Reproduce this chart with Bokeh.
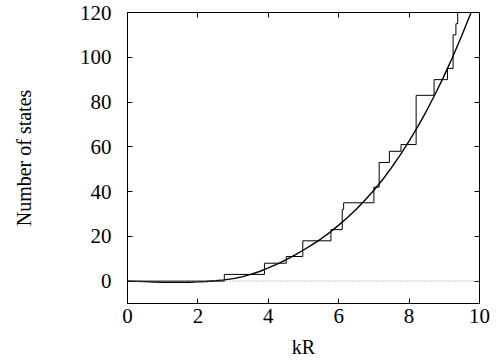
from bokeh.plotting import figure
from bokeh.models import Range1d, LinearAxis, FixedTicker, Span
from bokeh.embed import file_html
from bokeh.resources import INLINE

# Counted states: positions in kR where the count jumps, and the count after each jump
jump_kr = [0.0, 2.75, 3.89, 4.51, 4.98, 5.78, 6.10, 6.14, 7.00, 7.15, 7.44, 7.77,
           8.20, 8.71, 9.09, 9.25, 9.33, 9.38, 10.0]
count = [0, 3, 8, 11, 18, 23, 32, 35, 42, 53, 58, 61,
         83, 90, 95, 110, 115, 130, 130]

# Smooth (asymptotic) estimate of the number of states
smooth_kr = [0.0, 0.25, 0.5, 0.75, 1.0, 1.25, 1.5, 1.75, 2.0, 2.25, 2.5, 2.75,
             3.0, 3.25, 3.5, 3.75, 4.0, 4.25, 4.5, 4.75, 5.0, 5.25, 5.5, 5.75,
             6.0, 6.25, 6.5, 6.75, 7.0, 7.25, 7.5, 7.75, 8.0, 8.25, 8.5, 8.75,
             9.0, 9.25, 9.5, 9.75]
smooth_n = [0.0, -0.1, -0.25, -0.4, -0.5, -0.55, -0.55, -0.5, -0.35, -0.15, 0.15, 0.55,
            1.1, 1.9, 3.0, 4.3, 5.9, 7.6, 9.5, 11.6, 13.9, 16.3, 18.9, 21.8,
            25.0, 28.4, 32.1, 36.2, 40.6, 45.4, 50.7, 56.4, 62.5, 69.1, 76.2, 83.8,
            91.9, 100.6, 109.8, 119.6]

x_ticks = [0, 2, 4, 6, 8, 10]
y_ticks = [0, 20, 40, 60, 80, 100, 120]

FONT = "Liberation Serif"

p = figure(width=500, height=362, output_backend="svg", toolbar_location=None,
           x_range=Range1d(0, 10), y_range=Range1d(-10, 120),
           min_border_left=127, min_border_right=21, min_border_top=12,
           min_border_bottom=59)
p.background_fill_color = "white"
p.border_fill_color = "white"
p.grid.visible = False
p.outline_line_color = "black"
p.outline_line_width = 1

# zero reference line
p.add_layout(Span(location=0, dimension="width", line_color="#999999",
                  line_dash="1 2", line_width=1))

p.step(jump_kr, count, mode="after", line_color="black", line_width=1)
p.line(smooth_kr + [10.0], smooth_n + [130.0], line_color="black", line_width=1.4)


def style_axis(ax, ticks):
    ax.ticker = FixedTicker(ticks=ticks)
    ax.major_tick_in = 5
    ax.major_tick_out = 0
    ax.minor_tick_line_color = None
    ax.axis_line_color = "black"
    ax.major_tick_line_color = "black"
    ax.major_label_text_font = FONT
    ax.major_label_text_font_size = "21px"
    ax.major_label_text_color = "black"
    ax.axis_label_text_font = FONT
    ax.axis_label_text_font_size = "20px"
    ax.axis_label_text_font_style = "normal"
    ax.axis_label_text_color = "black"


style_axis(p.xaxis[0], x_ticks)
style_axis(p.yaxis[0], y_ticks)
p.xaxis[0].axis_label = "kR"
p.yaxis[0].axis_label = "Number of states"
p.xaxis[0].major_label_standoff = 5
p.xaxis[0].axis_label_standoff = 10
p.yaxis[0].major_label_standoff = 16
p.yaxis[0].axis_label_standoff = 42

# mirrored tick marks on the top and right edges
top = LinearAxis()
style_axis(top, x_ticks)
top.major_label_text_font_size = "0px"
top.major_label_text_color = None
p.add_layout(top, "above")

right = LinearAxis()
style_axis(right, y_ticks)
right.major_label_text_font_size = "0px"
right.major_label_text_color = None
p.add_layout(right, "right")

open("out.html", "w").write(file_html(p, INLINE))
